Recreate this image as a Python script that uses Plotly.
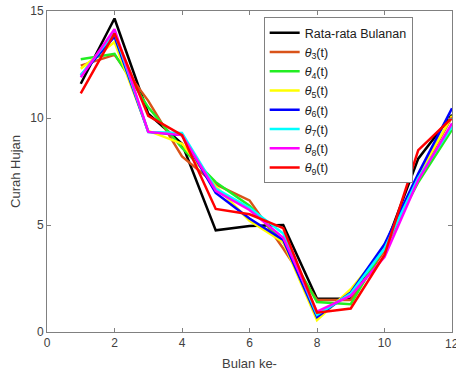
import plotly.graph_objects as go

bulan = [1, 2, 3, 4, 5, 6, 7, 8, 9, 10, 11, 12]

rata_rata = [11.6, 14.65, 10.2, 8.8, 4.75, 4.95, 5.0, 1.55, 1.55, 3.9, 8.1, 10.15]
theta3 = [12.45, 12.95, 10.8, 8.2, 6.9, 6.15, 3.9, 1.5, 1.5, 3.8, 7.2, 10.05]
theta4 = [12.75, 13.0, 10.5, 8.6, 7.0, 5.9, 4.2, 1.4, 1.3, 4.0, 7.0, 9.45]
theta5 = [12.3, 13.55, 9.4, 8.8, 6.8, 5.2, 4.2, 0.55, 2.0, 3.9, 7.3, 10.1]
theta6 = [12.0, 13.8, 9.35, 9.2, 6.5, 5.3, 4.3, 0.7, 1.85, 4.1, 7.4, 10.45]
theta7 = [12.0, 14.0, 9.35, 9.3, 6.7, 5.8, 4.6, 0.8, 1.8, 3.9, 7.2, 9.6]
theta8 = [11.9, 14.15, 9.35, 9.2, 6.6, 5.7, 4.4, 0.95, 1.7, 3.5, 7.1, 9.75]
theta9 = [11.15, 13.95, 10.1, 9.2, 5.75, 5.5, 4.85, 0.9, 1.1, 3.6, 8.5, 10.0]

x_ticks = [0, 2, 4, 6, 8, 10, 12]
y_ticks = [0, 5, 10, 15]

names = ["Rata-rata Bulanan"] + ["<i>θ</i><sub>%d</sub>(t)" % k for k in range(3, 10)]
series = [rata_rata, theta3, theta4, theta5, theta6, theta7, theta8, theta9]
colors = ["#000000", "#D95319", "#22EE22", "#FFFF00", "#0000FF", "#00FFFF", "#FF00FF", "#FF0000"]

fig = go.Figure()
for nm, ys, c in zip(names, series, colors):
    fig.add_trace(go.Scatter(x=bulan, y=ys, mode="lines", name=nm,
                             line=dict(color=c, width=2.5)))

axis_common = dict(showline=True, linecolor="#808080", linewidth=1, mirror="ticks",
                   ticks="inside", ticklen=4, tickcolor="#808080", showgrid=False,
                   zeroline=False, tickfont=dict(family="Liberation Sans, Arial", size=12, color="#404040"))

fig.update_layout(
    width=456, height=374,
    margin=dict(l=47, r=4, t=11, b=42),
    paper_bgcolor="white", plot_bgcolor="white",
    font=dict(family="Liberation Sans, Arial", size=12, color="#404040"),
    xaxis=dict(range=[0, 12], tickvals=x_ticks[:-1],
               title=dict(text="Bulan ke-", standoff=9, font=dict(size=13, color="#404040")),
               **axis_common),
    yaxis=dict(range=[0, 15], tickvals=y_ticks,
               title=dict(text="Curah Hujan", standoff=6, font=dict(size=13, color="#404040")),
               **axis_common),
    legend=dict(x=0.535, y=0.981, xanchor="left", yanchor="top",
                bgcolor="white", bordercolor="#808080", borderwidth=1,
                font=dict(family="Liberation Sans, Arial", size=12.5, color="#202020"),
                tracegroupgap=0, itemwidth=30),
    showlegend=True,
)

# last x tick label sits at the figure edge (partly cut, as in the reference)
fig.add_annotation(x=x_ticks[-1], xref="x", y=0, yref="paper", yanchor="top",
                   xanchor="center", yshift=-3, text=str(x_ticks[-1]), showarrow=False,
                   font=dict(family="Liberation Sans, Arial", size=12, color="#404040"))

fig.write_html("out.html")
